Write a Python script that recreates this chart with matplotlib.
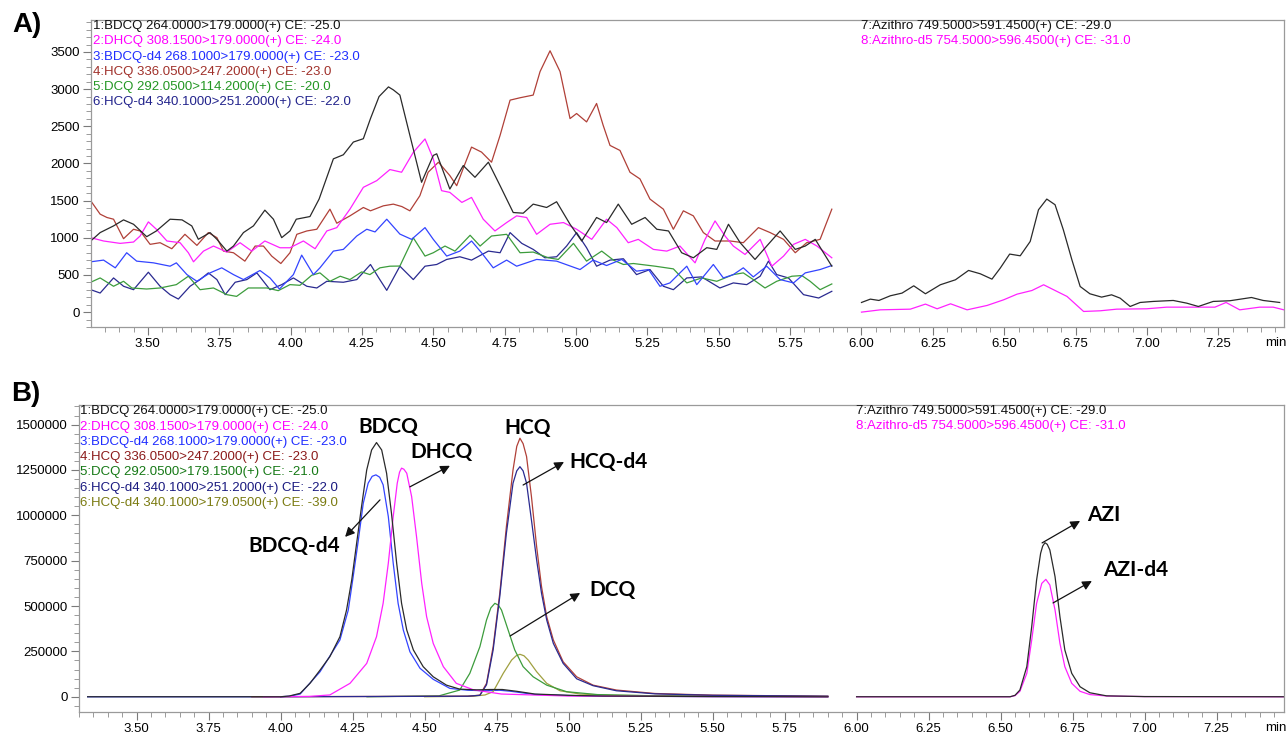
import matplotlib

matplotlib.use('Agg')
import matplotlib.pyplot as plt
from matplotlib.ticker import MultipleLocator, FormatStrFormatter, FuncFormatter

plt.rcParams['font.family'] = ['Liberation Sans', 'DejaVu Sans']

# ---------------- panel A: low-level traces (time [min], intensity) ----------------
A_BDCQ_T = [3.30, 3.333, 3.38, 3.415, 3.45, 3.496, 3.53, 3.578, 3.62, 3.654, 3.677, 3.718, 3.742,
            3.777, 3.80, 3.835, 3.87, 3.91, 3.94, 3.969, 3.998, 4.02, 4.068, 4.10, 4.15, 4.185, 4.22,
            4.255, 4.28, 4.31, 4.343, 4.36, 4.383, 4.418, 4.459, 4.50, 4.512, 4.558, 4.605, 4.646,
            4.693, 4.734, 4.78, 4.815, 4.85, 4.897, 4.932, 4.979, 5.02, 5.072, 5.107, 5.148, 5.195,
            5.242, 5.283, 5.324, 5.37, 5.411, 5.458, 5.493, 5.534, 5.575, 5.627, 5.668, 5.715, 5.768,
            5.803, 5.838, 5.896]
A_BDCQ = [957, 1070, 1160, 1241, 1182, 1015, 1092, 1250, 1241, 1160, 980, 1070, 980,
          821, 889, 1070, 1160, 1372, 1250, 1002, 1092, 1250, 1286, 1521, 2062, 2117, 2288,
          2333, 2604, 2900, 3030, 2990, 2920, 2378, 1747, 2108, 2130, 1656, 1972, 1814,
          2017, 1701, 1340, 1331, 1453, 1408, 1485, 1182, 957, 1273, 1205, 1453, 1182,
          1273, 1115, 1092, 799, 731, 867, 844, 1182, 934, 709, 889, 1092, 844,
          889, 979, 618]

A_DHCQ_T = [3.30, 3.345, 3.403, 3.45, 3.473, 3.502, 3.53, 3.567, 3.613, 3.642, 3.66, 3.695, 3.73,
            3.777, 3.823, 3.864, 3.91, 3.963, 3.998, 4.045, 4.086, 4.127, 4.162, 4.208, 4.255,
            4.302, 4.348, 4.389, 4.43, 4.471, 4.50, 4.529, 4.558, 4.60, 4.634, 4.675, 4.716, 4.757,
            4.792, 4.827, 4.862, 4.909, 4.956, 5.002, 5.055, 5.107, 5.143, 5.183, 5.218, 5.271,
            5.318, 5.364, 5.417, 5.452, 5.487, 5.522, 5.551, 5.592, 5.645, 5.686, 5.727, 5.762,
            5.803, 5.844, 5.896]
A_DHCQ = [1002, 957, 925, 943, 1024, 1214, 1115, 957, 934, 799, 677, 821, 889,
          808, 934, 821, 957, 866, 866, 957, 853, 1092, 1137, 1385, 1679,
          1769, 1918, 1882, 2150, 2330, 2062, 1634, 1611, 1476, 1543, 1250, 1092, 1205,
          1295, 1273, 1047, 1182, 1205, 1115, 979, 1250, 1137, 934, 979, 844,
          821, 889, 663, 979, 1227, 1024, 889, 776, 979, 618, 754, 912,
          979, 889, 731]

A_HCQ_T = [3.30, 3.333, 3.357, 3.38, 3.415, 3.45, 3.473, 3.508, 3.543, 3.584, 3.63, 3.672, 3.712,
           3.742, 3.765, 3.80, 3.84, 3.876, 3.905, 3.934, 3.966, 3.998, 4.022, 4.057, 4.092, 4.138,
           4.162, 4.208, 4.255, 4.28, 4.325, 4.36, 4.39, 4.418, 4.453, 4.482, 4.518, 4.558, 4.582,
           4.611, 4.634, 4.669, 4.704, 4.734, 4.769, 4.804, 4.85, 4.874, 4.909, 4.944, 4.979,
           5.002, 5.037, 5.072, 5.095, 5.119, 5.154, 5.189, 5.224, 5.259, 5.306, 5.341, 5.376,
           5.411, 5.446, 5.487, 5.54, 5.586, 5.639, 5.68, 5.727, 5.768, 5.808, 5.855, 5.896]
A_HCQ = [1498, 1318, 1273, 1250, 988, 1115, 1092, 912, 934, 853, 1047, 898, 1070,
         1002, 821, 799, 686, 889, 889, 754, 654, 799, 1047, 1092, 1115, 1385,
         1196, 1295, 1408, 1363, 1430, 1453, 1420, 1363, 1566, 1882, 2017, 1837, 1701,
         1995, 2220, 2153, 2017, 2378, 2852, 2884, 2920, 3236, 3516, 3236, 2604,
         2672, 2559, 2807, 2514, 2243, 2175, 1882, 1792, 1521, 1385, 1115, 1363,
         1295, 1070, 957, 957, 934, 1137, 1070, 979, 799, 934, 979, 1385]

A_BDCQD4_T = [3.30, 3.345, 3.386, 3.426, 3.461, 3.52, 3.578, 3.60, 3.637, 3.672, 3.718, 3.759, 3.80,
              3.835, 3.893, 3.928, 3.961, 4.01, 4.039, 4.08, 4.103, 4.15, 4.185, 4.232, 4.267,
              4.296, 4.337, 4.383, 4.424, 4.471, 4.50, 4.547, 4.593, 4.634, 4.669, 4.71, 4.757,
              4.792, 4.862, 4.932, 5.014, 5.06, 5.107, 5.16, 5.212, 5.254, 5.294, 5.329, 5.364,
              5.388, 5.423, 5.481, 5.516, 5.551, 5.586, 5.621, 5.668, 5.715, 5.762, 5.803, 5.855,
              5.896]
A_BDCQD4 = [677, 700, 596, 799, 686, 663, 618, 663, 505, 415, 528, 596, 505,
            438, 560, 460, 311, 505, 767, 505, 596, 821, 844, 1024, 1115,
            1079, 1250, 1050, 979, 1137, 979, 754, 821, 957, 799, 596, 700,
            618, 709, 686, 573, 700, 627, 709, 551, 573, 348, 393, 528,
            618, 370, 641, 460, 505, 596, 474, 618, 438, 393, 528, 573,
            627]

A_DCQ_T = [3.30, 3.333, 3.38, 3.415, 3.444, 3.496, 3.543, 3.60, 3.642, 3.683, 3.73, 3.777, 3.811,
           3.852, 3.917, 3.957, 3.998, 4.033, 4.074, 4.103, 4.138, 4.174, 4.208, 4.249, 4.278,
           4.313, 4.348, 4.383, 4.43, 4.471, 4.50, 4.541, 4.576, 4.629, 4.664, 4.704, 4.757, 4.804,
           4.85, 4.903, 4.938, 4.991, 5.037, 5.09, 5.131, 5.166, 5.201, 5.277, 5.341, 5.388, 5.44,
           5.493, 5.551, 5.586, 5.621, 5.662, 5.703, 5.756, 5.791, 5.82, 5.855, 5.896]
A_DCQ = [402, 460, 348, 415, 325, 311, 325, 370, 483, 302, 325, 235, 212,
         325, 325, 289, 370, 361, 496, 528, 415, 483, 438, 541, 505,
         596, 618, 620, 1000, 754, 799, 889, 821, 1034, 889, 1024, 1047, 799,
         808, 731, 709, 925, 686, 821, 700, 641, 654, 618, 582, 393, 460,
         415, 505, 528, 438, 325, 415, 483, 492, 415, 302, 379]

A_HCQD4_T = [3.30, 3.333, 3.38, 3.415, 3.45, 3.502, 3.543, 3.578, 3.607, 3.648, 3.683, 3.712, 3.742,
             3.771, 3.806, 3.847, 3.882, 3.928, 3.969, 4.01, 4.057, 4.092, 4.127, 4.185, 4.232,
             4.28, 4.309, 4.337, 4.383, 4.43, 4.471, 4.512, 4.547, 4.593, 4.634, 4.693, 4.734,
             4.769, 4.81, 4.85, 4.891, 4.932, 4.967, 5.002, 5.037, 5.072, 5.119, 5.166, 5.212,
             5.259, 5.306, 5.341, 5.388, 5.44, 5.504, 5.551, 5.598, 5.645, 5.674, 5.703, 5.744,
             5.797, 5.85, 5.896]
A_HCQD4 = [302, 257, 460, 348, 302, 537, 348, 235, 176, 348, 438, 528, 438,
           235, 402, 438, 528, 302, 370, 460, 348, 325, 415, 402, 438,
           641, 460, 293, 618, 438, 618, 641, 709, 745, 700, 821, 799,
           1070, 925, 844, 731, 745, 889, 1070, 866, 618, 700, 718, 505,
           573, 348, 302, 460, 474, 325, 393, 370, 483, 686, 505, 460,
           235, 190, 280]

A_AZI_T = [6.0, 6.031, 6.061, 6.101, 6.142, 6.183, 6.224, 6.276, 6.329, 6.375, 6.416, 6.457, 6.486,
           6.519, 6.556, 6.591, 6.62, 6.649, 6.678, 6.707, 6.737, 6.766, 6.80, 6.841, 6.876, 6.906,
           6.941, 6.976, 7.022, 7.092, 7.139, 7.18, 7.232, 7.29, 7.366, 7.407, 7.465]
A_AZI = [130, 175, 157, 220, 256, 354, 247, 368, 435, 561, 516, 444, 592,
         781, 758, 951, 1377, 1521, 1445, 1108, 704, 345, 247, 202, 233, 188,
         76, 130, 144, 157, 121, 76, 144, 153, 197, 157, 130]

A_AZID5_T = [6.0, 6.066, 6.171, 6.224, 6.265, 6.312, 6.37, 6.44, 6.498, 6.545, 6.597, 6.638, 6.673,
             6.72, 6.778, 6.836, 6.894, 6.999, 7.069, 7.127, 7.185, 7.238, 7.277, 7.325, 7.395,
             7.442, 7.489]
A_AZID5 = [0, 31, 40, 108, 45, 112, 31, 90, 166, 242, 291, 368, 301,
           211, 9, 18, 40, 45, 67, 67, 67, 67, 130, 31, 67,
           67, 22]

# ---------------- panel B: standards (time [min], intensity) ----------------
B_BDCQ_T = [3.33, 4.00, 4.03, 4.068, 4.102, 4.137, 4.171, 4.206, 4.229, 4.247, 4.264, 4.281, 4.299,
            4.316, 4.333, 4.351, 4.368, 4.385, 4.403, 4.42, 4.438, 4.461, 4.495, 4.53, 4.576, 4.622,
            4.68, 4.73, 4.77, 4.82, 4.883, 5.0, 5.116, 5.5, 5.9]
B_BDCQ = [0, 0, 4000, 19000, 74000, 147000, 221000, 331000, 478000, 644000, 846000, 1048000, 1250000,
          1360000, 1401000, 1360000, 1232000, 1011000, 736000, 515000, 368000, 258000, 166000, 110000, 64000, 42000,
          38000, 40000, 40000, 30000, 15000, 8000, 4000, 1000, 0]

B_BDCQD4_T = [3.33, 3.38, 4.0, 4.03, 4.068, 4.137, 4.206, 4.235, 4.252, 4.27, 4.287, 4.304, 4.318,
              4.331, 4.344, 4.356, 4.374, 4.391, 4.408, 4.426, 4.449, 4.484, 4.53, 4.588, 4.65, 4.71,
              4.76, 4.80, 4.88, 5.0, 5.12, 5.5, 5.9]
B_BDCQD4 = [0, 0, 0, 3000, 15000, 138000, 313000, 478000, 662000, 864000, 1066000, 1177000, 1215000,
            1223000, 1210000, 1168000, 993000, 736000, 515000, 368000, 248000, 157000, 96000, 46000, 36000, 33000,
            36000, 30000, 13000, 7000, 3000, 1000, 0]

B_DHCQ_T = [3.94, 4.10, 4.171, 4.241, 4.299, 4.333, 4.356, 4.374, 4.391, 4.405, 4.413, 4.42, 4.428,
            4.438, 4.455, 4.472, 4.49, 4.507, 4.53, 4.565, 4.61, 4.67, 4.767, 5.0, 5.5, 5.9]
B_DHCQ = [0, 2000, 10000, 74000, 184000, 331000, 515000, 736000, 993000, 1177000, 1238000, 1260000, 1254000,
          1232000, 1103000, 882000, 625000, 441000, 294000, 166000, 74000, 38000, 15000, 4000, 1000, 0]

B_HCQ_T = [3.90, 4.65, 4.692, 4.715, 4.738, 4.761, 4.784, 4.807, 4.82, 4.831, 4.842, 4.854, 4.871,
           4.889, 4.906, 4.924, 4.947, 4.981, 5.028, 5.085, 5.166, 5.3, 5.5, 5.9]
B_HCQ = [0, 3000, 9000, 74000, 276000, 570000, 938000, 1250000, 1380000, 1425000, 1395000, 1324000, 1103000,
         827000, 607000, 441000, 313000, 193000, 110000, 64000, 37000, 18000, 9000, 3000]

B_HCQD4_T = [4.0, 4.65, 4.692, 4.715, 4.738, 4.761, 4.784, 4.807, 4.82, 4.831, 4.842, 4.854, 4.871,
             4.889, 4.906, 4.924, 4.947, 4.981, 5.028, 5.085, 5.166, 5.3, 5.5, 5.9]
B_HCQD4 = [0, 3000, 8000, 66000, 258000, 552000, 901000, 1177000, 1245000, 1268000, 1245000, 1177000, 974000,
           754000, 570000, 423000, 294000, 184000, 99000, 61000, 33000, 16000, 8000, 3000]

B_DCQ_T = [4.3, 4.55, 4.622, 4.657, 4.692, 4.715, 4.73, 4.744, 4.756, 4.767, 4.79, 4.813, 4.842,
           4.877, 4.924, 4.993, 5.1, 5.3, 5.9]
B_DCQ = [0, 5000, 37000, 129000, 276000, 423000, 490000, 515000, 505000, 478000, 368000, 258000, 166000,
         110000, 64000, 28000, 12000, 5000, 1000]

B_HCQD4B_T = [4.5, 4.67, 4.71, 4.738, 4.773, 4.802, 4.818, 4.831, 4.845, 4.86, 4.889, 4.924, 4.97,
              5.04, 5.15, 5.5, 5.9]
B_HCQD4B = [0, 3000, 10000, 28000, 129000, 202000, 226000, 234000, 226000, 202000, 138000, 74000, 33000,
            15000, 8000, 3000, 1000]

B_AZI_T = [6.0, 6.533, 6.55, 6.567, 6.591, 6.608, 6.625, 6.639, 6.646, 6.654, 6.662, 6.671, 6.689,
           6.706, 6.723, 6.747, 6.776, 6.81, 6.868, 7.0, 7.484]
B_AZI = [0, 0, 8000, 37000, 166000, 386000, 644000, 791000, 830000, 849000, 840000, 809000, 662000,
         441000, 258000, 129000, 55000, 22000, 5000, 1000, 0]

B_AZID4_T = [6.0, 6.533, 6.55, 6.567, 6.591, 6.608, 6.625, 6.643, 6.657, 6.671, 6.689, 6.706, 6.723,
             6.747, 6.776, 6.81, 6.87, 7.0, 7.484]
B_AZID4 = [0, 0, 6000, 30000, 129000, 313000, 515000, 625000, 647000, 616000, 478000, 294000, 166000,
           74000, 30000, 12000, 4000, 1000, 0]

LEGEND_A = [
    ('1:BDCQ 264.0000>179.0000(+) CE: -25.0', '#111111'),
    ('2:DHCQ 308.1500>179.0000(+) CE: -24.0', '#ff00ff'),
    ('3:BDCQ-d4 268.1000>179.0000(+) CE: -23.0', '#1f2dff'),
    ('4:HCQ 336.0500>247.2000(+) CE: -23.0', '#a0302a'),
    ('5:DCQ 292.0500>114.2000(+) CE: -20.0', '#239623'),
    ('6:HCQ-d4 340.1000>251.2000(+) CE: -22.0', '#22238c'),
]
LEGEND_B = [
    ('1:BDCQ 264.0000>179.0000(+) CE: -25.0', '#111111'),
    ('2:DHCQ 308.1500>179.0000(+) CE: -24.0', '#ff00ff'),
    ('3:BDCQ-d4 268.1000>179.0000(+) CE: -23.0', '#1f2dff'),
    ('4:HCQ 336.0500>247.2000(+) CE: -23.0', '#8b1a1a'),
    ('5:DCQ 292.0500>179.1500(+) CE: -21.0', '#157815'),
    ('6:HCQ-d4 340.1000>251.2000(+) CE: -22.0', '#1a1a80'),
    ('6:HCQ-d4 340.1000>179.0500(+) CE: -39.0', '#7a7a10'),
]
LEGEND_AZI = [
    ('7:Azithro 749.5000>591.4500(+) CE: -29.0', '#111111'),
    ('8:Azithro-d5 754.5000>596.4500(+) CE: -31.0', '#ff00ff'),
]

W, H = 1288, 738
BLACK, MAGENTA, BLUE = '#2a2a2a', '#ff22ff', '#3344ff'
BROWN, GREEN, NAVY, OLIVE = '#b04038', '#3c9c3c', '#2a2a90', '#a0a040'


def style_axes(ax, xlim, ylim, ymajor, yminor):
    ax.set_xlim(*xlim)
    ax.set_ylim(*ylim)
    for s in ax.spines.values():
        s.set_color('#9a9a9a')
        s.set_linewidth(0.9)
    ax.xaxis.set_major_locator(MultipleLocator(0.25))
    ax.xaxis.set_minor_locator(MultipleLocator(0.05))
    ax.xaxis.set_major_formatter(FormatStrFormatter('%.2f'))
    ax.yaxis.set_major_locator(MultipleLocator(ymajor))
    ax.yaxis.set_minor_locator(MultipleLocator(yminor))
    ax.yaxis.set_major_formatter(FuncFormatter(lambda v, p: f'{v:.0f}'))
    ax.tick_params(which='major', length=6, width=0.8, color='#7a7a7a', labelsize=9.5, pad=2)
    ax.tick_params(which='minor', length=3.5, width=0.7, color='#9a9a9a')


def px(x, y):
    return x / W, 1 - y / H


fig = plt.figure(figsize=(W / 100, H / 100), dpi=100)
ax_a = fig.add_axes([91 / W, 1 - 327 / H, (1284 - 91) / W, (327 - 20) / H])
ax_b = fig.add_axes([79 / W, 1 - 712 / H, (1284 - 79) / W, (712 - 405) / H])

# panel A
for t, v, c in [(A_HCQD4_T, A_HCQD4, NAVY), (A_DCQ_T, A_DCQ, GREEN), (A_BDCQD4_T, A_BDCQD4, BLUE),
                (A_HCQ_T, A_HCQ, BROWN), (A_DHCQ_T, A_DHCQ, MAGENTA), (A_BDCQ_T, A_BDCQ, BLACK),
                (A_AZID5_T, A_AZID5, MAGENTA), (A_AZI_T, A_AZI, BLACK)]:
    ax_a.plot(t, v, color=c, lw=0.9, solid_joinstyle='round')
style_axes(ax_a, (3.301, 7.48), (-200, 3930), 500, 100)

# panel B
for t, v, c in [(B_BDCQD4_T, B_BDCQD4, BLUE), (B_HCQD4B_T, B_HCQD4B, OLIVE), (B_DCQ_T, B_DCQ, GREEN),
                (B_HCQ_T, B_HCQ, BROWN), (B_HCQD4_T, B_HCQD4, NAVY), (B_DHCQ_T, B_DHCQ, MAGENTA),
                (B_BDCQ_T, B_BDCQ, BLACK), (B_AZID4_T, B_AZID4, MAGENTA), (B_AZI_T, B_AZI, BLACK)]:
    ax_b.plot(t, v, color=c, lw=0.9, solid_joinstyle='round')
style_axes(ax_b, (3.30, 7.484), (-84000, 1608000), 250000, 50000)

# compound labels and arrows in panel B
lab = dict(fontsize=15, fontweight='bold', family=['Lato', 'DejaVu Sans'], ha='center', va='center')
arrow = dict(arrowstyle='-|>', color='#111111', lw=0.9, mutation_scale=14, shrinkA=0, shrinkB=0)
ax_b.text(4.373, 1487000, 'BDCQ', **lab)
ax_b.text(4.560, 1350000, 'DHCQ', **lab)
ax_b.text(4.856, 1482000, 'HCQ', **lab)
ax_b.text(5.137, 1294000, 'HCQ-d4', **lab)
ax_b.text(5.151, 588000, 'DCQ', **lab)
ax_b.text(4.047, 831000, 'BDCQ-d4', **lab)
ax_b.text(6.859, 1002000, 'AZI', **lab)
ax_b.text(6.970, 699000, 'AZI-d4', **lab)
for tail, head in [((4.449, 1157000), (4.588, 1273000)),
                   ((4.842, 1167000), (4.984, 1294000)),
                   ((4.797, 335000), (5.040, 572000)),
                   ((4.345, 1085000), (4.224, 881000)),
                   ((6.644, 848000), (6.776, 969000)),
                   ((6.682, 517000), (6.817, 638000))]:
    ax_b.annotate('', xy=head, xytext=tail, arrowprops=arrow)

# legends (instrument-style channel lists)
for i, (txt, c) in enumerate(LEGEND_A):
    fig.text(*px(93, 26 + 15.3 * i), txt, color=c, fontsize=9.5, va='center')
for i, (txt, c) in enumerate(LEGEND_AZI):
    fig.text(*px(861, 26 + 14.7 * i), txt, color=c, fontsize=9.5, va='center')
for i, (txt, c) in enumerate(LEGEND_B):
    fig.text(*px(80, 411.5 + 15.2 * i), txt, color=c, fontsize=9.5, va='center')
for i, (txt, c) in enumerate(LEGEND_AZI):
    fig.text(*px(856, 411.5 + 15 * i), txt, color=c, fontsize=9.5, va='center')

fig.text(*px(1276, 343), 'min', fontsize=9.5, ha='center', va='center')
fig.text(*px(1276, 728), 'min', fontsize=9.5, ha='center', va='center')
fig.text(*px(27, 25), 'A)', fontsize=20, fontweight='bold', ha='center', va='center')
fig.text(*px(26, 394), 'B)', fontsize=20, fontweight='bold', ha='center', va='center')

fig.savefig('out.png', dpi=100)
plt.close(fig)
